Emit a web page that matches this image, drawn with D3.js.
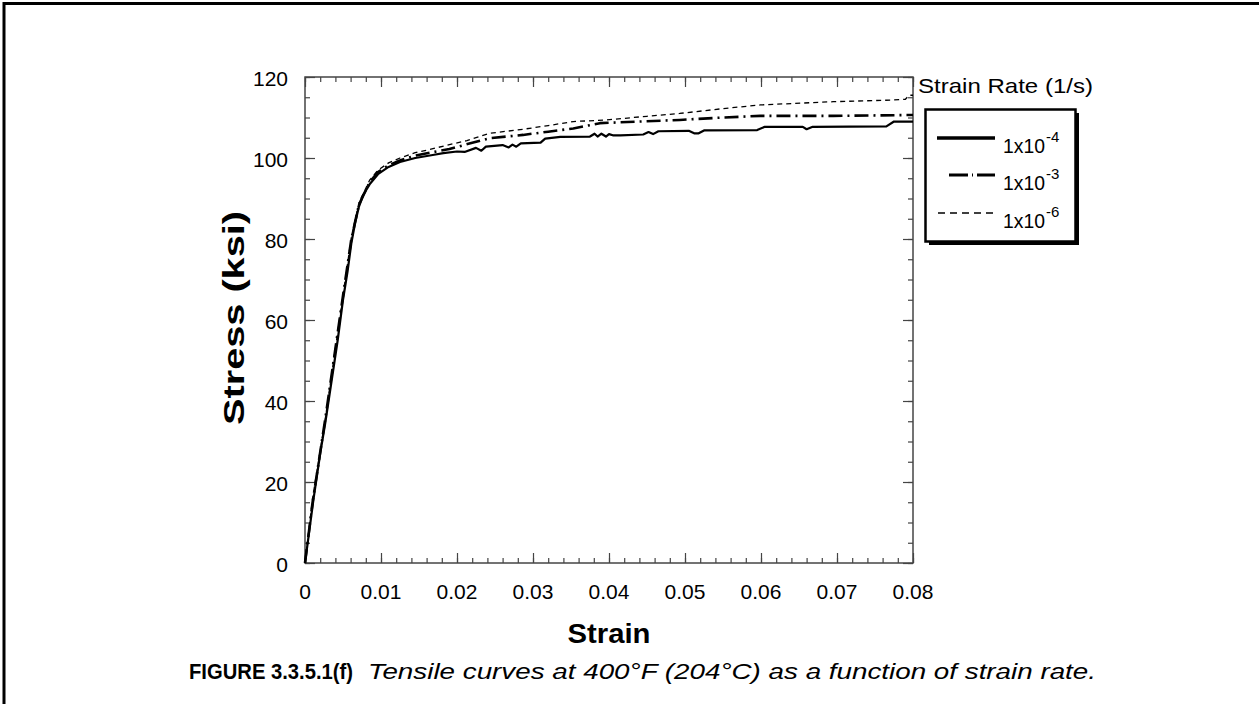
<!DOCTYPE html>
<html>
<head>
<meta charset="utf-8">
<script src="https://cdn.jsdelivr.net/npm/d3@7"></script>
<style>
  html, body { margin: 0; padding: 0; background: #fff; }
  svg { display: block; font-family: "Liberation Sans", Arial, Helvetica, sans-serif; }
</style>
</head>
<body>
<svg id="chart" width="1259" height="704"></svg>
<script>
// --- data: [strain, stress ksi] ---
const rate1e4 = [[0,0],[0.0005,7],[0.0011,15.5],[0.002,27],[0.0027,35],[0.0035,45],[0.0043,55],[0.005,65],
  [0.0056,72],[0.0061,79],[0.0066,84],[0.0071,88],[0.0077,91],[0.0085,93.5],[0.0096,96],[0.011,97.8],
  [0.0125,99],[0.0145,100],[0.017,100.8],[0.0182,101.2],[0.02,101.6],[0.021,101.5],[0.0225,102.5],
  [0.0232,101.8],[0.0238,102.8],[0.026,103.2],[0.0268,102.6],[0.0273,103.3],[0.0278,102.8],[0.0284,103.6],
  [0.031,103.8],[0.0316,104.8],[0.0336,105.2],[0.0375,105.3],[0.0381,106],[0.0385,105.3],[0.039,106],
  [0.0396,105.3],[0.04,105.9],[0.0405,105.6],[0.0415,105.6],[0.0445,105.8],[0.0452,106.4],[0.0458,105.9],
  [0.0465,106.6],[0.0505,106.7],[0.0512,106.1],[0.0518,106.1],[0.0525,106.8],[0.0595,106.9],[0.0605,107.7],
  [0.0655,107.7],[0.066,107.1],[0.0668,107.7],[0.0765,107.8],[0.0775,109],[0.08,109]];
const rate1e3 = [[0,0],[0.001,15],[0.0027,36],[0.005,66],[0.0061,80],[0.0071,88.5],[0.0085,94],[0.0096,96.5],
  [0.011,98.2],[0.0125,99.4],[0.0145,100.6],[0.0164,101.3],[0.019,102.2],[0.0215,103.5],[0.0243,104.9],
  [0.0287,105.7],[0.032,106.5],[0.0353,107.3],[0.0388,108.6],[0.044,109],[0.0493,109.4],[0.055,110],
  [0.0599,110.4],[0.0695,110.4],[0.079,110.6],[0.08,110.6]];
const rate1e6 = [[0,0],[0.001,16],[0.0027,36],[0.005,66],[0.0061,80.5],[0.0071,89],[0.0085,94.5],[0.0096,97],
  [0.011,98.8],[0.0125,100],[0.0145,101.3],[0.0164,102.1],[0.019,103.3],[0.0213,104.3],[0.0243,106.1],
  [0.0287,107.1],[0.032,108],[0.0353,109],[0.0397,109.4],[0.045,110.3],[0.0493,111],[0.055,112.2],
  [0.0599,113.1],[0.0695,113.9],[0.077,114.3],[0.079,114.5],[0.0795,115.5],[0.08,115.5]];

const xTicks = [0, 0.01, 0.02, 0.03, 0.04, 0.05, 0.06, 0.07, 0.08];
const xTickLabels = ["0", "0.01", "0.02", "0.03", "0.04", "0.05", "0.06", "0.07", "0.08"];
const yTicks = [0, 20, 40, 60, 80, 100, 120];
const legendLabels = ["1x10", "1x10", "1x10"];
const legendExps = ["-4", "-3", "-6"];

const svg = d3.select("#chart");

// outer frame (left and top edges only are visible)
svg.append("path")
  .attr("d", "M4,704 L4,3.5 L1259,3.5")
  .attr("fill", "none").attr("stroke", "#000").attr("stroke-width", 3);

const plot = { left: 305, right: 913, top: 77, bottom: 563 };
const x = d3.scaleLinear().domain([0, 0.08]).range([plot.left, plot.right]);
const y = d3.scaleLinear().domain([0, 120]).range([plot.bottom, plot.top]);

// ticks on all four sides, pointing inwards
const axisColor = "#444";
const minorX = d3.range(0, 0.0801, 0.002);
const minorY = d3.range(0, 120.1, 5);
function addAxis(axis, tx, ty) {
  const g = svg.append("g").attr("transform", `translate(${tx},${ty})`).call(axis);
  g.selectAll("path.domain").remove();
  g.selectAll("text").remove();
  g.selectAll("line").attr("stroke", axisColor).attr("stroke-width", 1.2);
}
addAxis(d3.axisBottom(x).tickValues(minorX).tickSize(-5), 0, plot.bottom);
addAxis(d3.axisBottom(x).tickValues(xTicks).tickSize(-10), 0, plot.bottom);
addAxis(d3.axisTop(x).tickValues(minorX).tickSize(-5), 0, plot.top);
addAxis(d3.axisTop(x).tickValues(xTicks).tickSize(-10), 0, plot.top);
addAxis(d3.axisLeft(y).tickValues(minorY).tickSize(-5), plot.left, 0);
addAxis(d3.axisLeft(y).tickValues(yTicks).tickSize(-10), plot.left, 0);
addAxis(d3.axisRight(y).tickValues(minorY).tickSize(-5), plot.right, 0);
addAxis(d3.axisRight(y).tickValues(yTicks).tickSize(-10), plot.right, 0);

svg.append("rect")
  .attr("x", plot.left).attr("y", plot.top)
  .attr("width", plot.right - plot.left).attr("height", plot.bottom - plot.top)
  .attr("fill", "none").attr("stroke", axisColor).attr("stroke-width", 1.5);

// tick labels
svg.append("g").selectAll("text").data(xTicks).join("text")
  .attr("x", d => x(d)).attr("y", plot.bottom + 36)
  .attr("text-anchor", "middle").attr("font-size", 21)
  .text((d, i) => xTickLabels[i]);
svg.append("g").selectAll("text").data(yTicks).join("text")
  .attr("x", plot.left - 17).attr("y", d => y(d) + 9)
  .attr("text-anchor", "end").attr("font-size", 21)
  .text(d => d);

// axis titles
svg.append("text")
  .attr("x", (plot.left + plot.right) / 2).attr("y", 643)
  .attr("text-anchor", "middle").attr("font-size", 28).attr("font-weight", "bold")
  .attr("textLength", 83).attr("lengthAdjust", "spacingAndGlyphs")
  .text("Strain");
svg.append("text")
  .attr("transform", `translate(244,${(plot.top + plot.bottom) / 2 - 2}) rotate(-90)`)
  .attr("text-anchor", "middle").attr("font-size", 29).attr("font-weight", "bold")
  .attr("textLength", 214).attr("lengthAdjust", "spacingAndGlyphs")
  .text("Stress (ksi)");

// curves
const series = [
  { data: rate1e4, width: 2.2, dash: null },
  { data: rate1e3, width: 2.6, dash: "14,5,2,5" },
  { data: rate1e6, width: 1.3, dash: "5,4" }
];
const line = d3.line().x(d => x(d[0])).y(d => y(d[1]));
series.forEach(s => {
  svg.append("path").datum(s.data)
    .attr("d", line)
    .attr("fill", "none").attr("stroke", "#000")
    .attr("stroke-width", s.width)
    .attr("stroke-dasharray", s.dash)
    .attr("stroke-linejoin", "round");
});

// legend
svg.append("text")
  .attr("x", 918).attr("y", 93).attr("font-size", 21)
  .attr("textLength", 175).attr("lengthAdjust", "spacingAndGlyphs")
  .text("Strain Rate (1/s)");
svg.append("rect").attr("x", 929).attr("y", 113).attr("width", 150).attr("height", 132).attr("fill", "#000");
svg.append("rect").attr("x", 925.5).attr("y", 109.5).attr("width", 150).attr("height", 132)
  .attr("fill", "#fff").attr("stroke", "#000").attr("stroke-width", 2.5);

const legendY = [138, 175, 213];
const legendX0 = [937, 949, 938];
const legendDash = [null, "19,4,1,4,19", "7,5"];
series.forEach((s, i) => {
  svg.append("line")
    .attr("x1", legendX0[i]).attr("x2", 995)
    .attr("y1", legendY[i]).attr("y2", legendY[i])
    .attr("stroke", "#000").attr("stroke-width", i === 0 ? 3.5 : i === 1 ? 3 : 1.5)
    .attr("stroke-dasharray", legendDash[i]);
  svg.append("text").attr("x", 1003).attr("y", legendY[i] + 15).attr("font-size", 21)
    .attr("textLength", 42).attr("lengthAdjust", "spacingAndGlyphs")
    .text(legendLabels[i]);
  svg.append("text").attr("x", 1046).attr("y", legendY[i] + 4).attr("font-size", 15)
    .text(legendExps[i]);
});

// caption
svg.append("text")
  .attr("x", 189).attr("y", 679).attr("font-size", 22).attr("font-weight", "bold")
  .attr("textLength", 164).attr("lengthAdjust", "spacingAndGlyphs")
  .text("FIGURE 3.3.5.1(f)");
svg.append("text")
  .attr("x", 368).attr("y", 679).attr("font-size", 22).attr("font-style", "italic")
  .attr("textLength", 728).attr("lengthAdjust", "spacingAndGlyphs")
  .text("Tensile curves at 400°F (204°C) as a function of strain rate.");
</script>
</body>
</html>
